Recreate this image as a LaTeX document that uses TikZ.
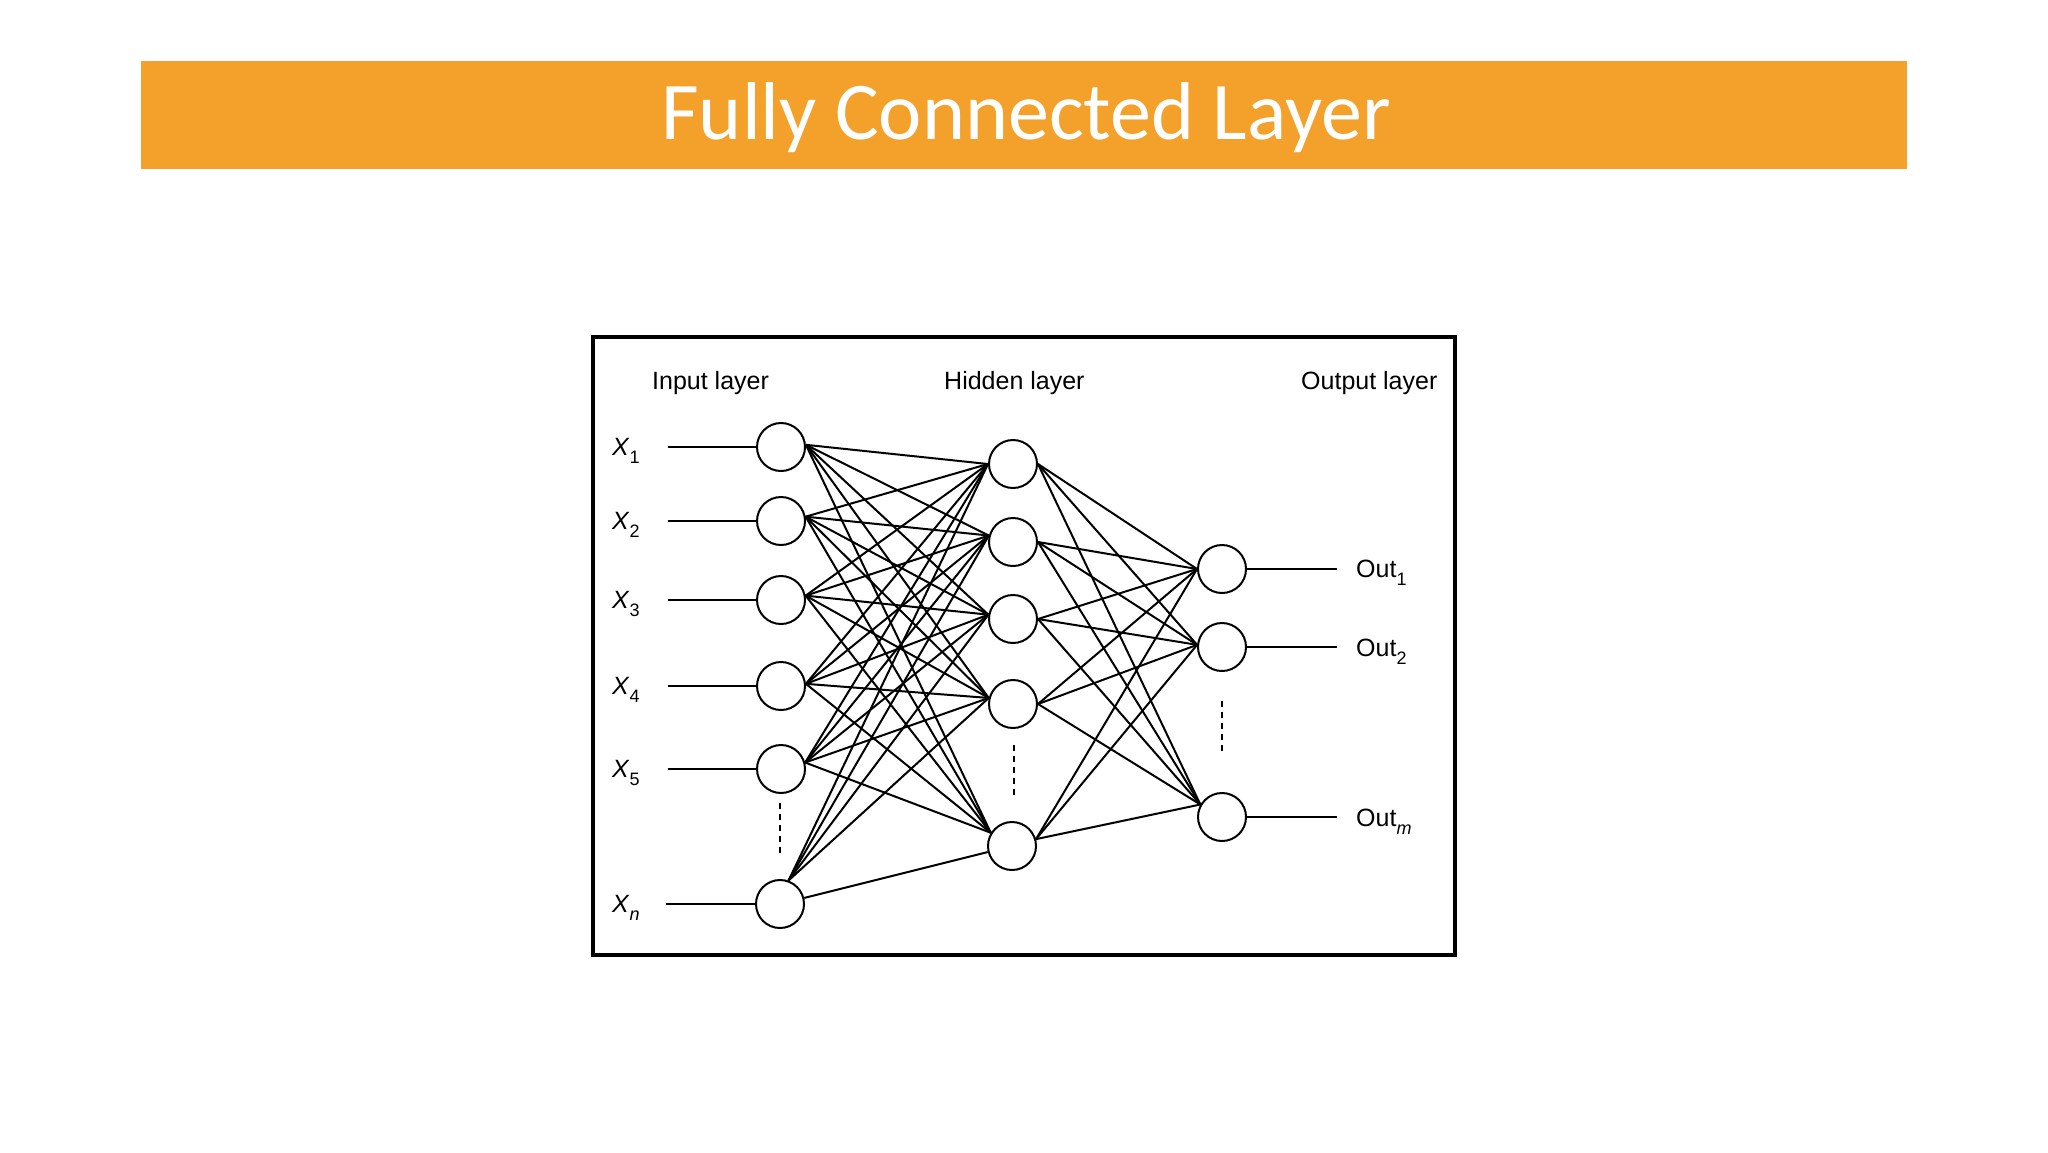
\documentclass[tikz,border=0pt]{standalone}
\usepackage{fontspec}
\setmainfont{Liberation Sans}
\newfontfamily\titlefont{Carlito}
\definecolor{banner}{RGB}{244,161,43}
\newcommand{\lowsub}[1]{\raisebox{-0.35em}{\fontsize{18}{20}\selectfont #1}}
\begin{document}
\begin{tikzpicture}[x=1pt,y=-1pt,
  neuron/.style={circle,draw,line width=2pt,minimum size=48pt,inner sep=0pt,fill=white},
  conn/.style={line width=2pt},
  feed/.style={line width=2pt},
  dots/.style={line width=2pt,dash pattern=on 6pt off 5pt},
  lbl/.style={anchor=base west,inner sep=0pt,font=\fontsize{25}{30}\selectfont}]
\useasboundingbox (0,0) rectangle (2048,1152);
\fill[white] (0,0) rectangle (2048,1152);
\fill[banner] (141,61) rectangle (1907,169);
\node[anchor=base,inner sep=0pt,text=white,font=\titlefont\fontsize{82}{98}\selectfont] (title) at (1026,139) {Fully Connected Layer};
\draw[line width=3.5pt] (593,337) rectangle (1455,955);
% layer titles
\node[lbl] (tin) at (652,389) {Input layer};
\node[lbl] (thid) at (944,389) {Hidden layer};
\node[lbl] (tout) at (1301,389) {Output layer};
% neurons
\node[neuron] (x1) at (781,447) {};
\node[neuron] (x2) at (781,521) {};
\node[neuron] (x3) at (781,600) {};
\node[neuron] (x4) at (781,686) {};
\node[neuron] (x5) at (781,769) {};
\node[neuron] (xn) at (780,904) {};
\node[neuron] (h1) at (1013,464) {};
\node[neuron] (h2) at (1013,542) {};
\node[neuron] (h3) at (1013,619) {};
\node[neuron] (h4) at (1013,704) {};
\node[neuron] (h5) at (1012,846) {};
\node[neuron] (o1) at (1222,569) {};
\node[neuron] (o2) at (1222,647) {};
\node[neuron] (om) at (1222,817) {};
% input -> hidden
\foreach \i/\sa in {x1/5,x2/10,x3/10,x4/5,x5/15}
  \foreach \j/\ta in {h1/180,h2/165,h3/170,h4/166,h5/148}
    \draw[conn] (\i.\sa) -- (\j.\ta);
\foreach \j/\ta in {h1/180,h2/165,h3/170,h4/166}
  \draw[conn] (xn.70) -- (\j.\ta);
\draw[conn] (xn) -- (h5);
% hidden -> output
\foreach \j/\sa in {h1/0,h2/0,h3/0,h4/0,h5/16}
  \foreach \k/\ta in {o1/180,o2/175,om/150}
    \draw[conn] (\j.\sa) -- (\k.\ta);
% input feeds and labels
\foreach \n/\y/\t in {1/447/1,2/521/2,3/600/3,4/686/4,5/769/5}{
  \coordinate (f\n) at (668,\y);
  \draw[feed] (f\n) -- (x\n);
  \node[lbl] (lx\n) at (612,\y+8) {\textit{X}\lowsub{\t}};
}
\coordinate (fn) at (666,904);
\draw[feed] (fn) -- (xn);
\node[lbl] (lxn) at (612,912) {\textit{X}\lowsub{\textit{n}}};
% outputs
\coordinate (g1) at (1337,569);
\coordinate (g2) at (1337,647);
\coordinate (gm) at (1337,817);
\draw[feed] (o1) -- (g1);
\draw[feed] (o2) -- (g2);
\draw[feed] (om) -- (gm);
\node[lbl] (lo1) at (1356,577) {Out\lowsub{1}};
\node[lbl] (lo2) at (1356,656) {Out\lowsub{2}};
\node[lbl] (lom) at (1356,826) {Out\lowsub{\textit{m}}};
% ellipses
\coordinate (d1a) at (780,803); \coordinate (d1b) at (780,857);
\coordinate (d2a) at (1014,745); \coordinate (d2b) at (1014,797);
\coordinate (d3a) at (1222,701); \coordinate (d3b) at (1222,754);
\draw[dots] (d1a) -- (d1b);
\draw[dots] (d2a) -- (d2b);
\draw[dots] (d3a) -- (d3b);
\end{tikzpicture}
\end{document}
